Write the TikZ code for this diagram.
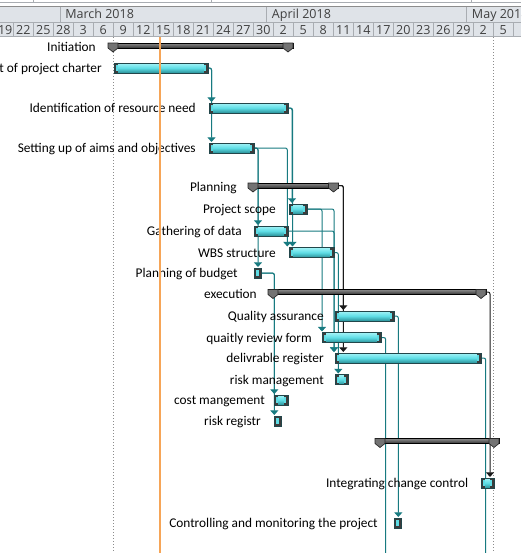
\documentclass[tikz,border=0pt]{standalone}
\usepackage{fontspec}
\setmainfont{Carlito}
\newfontfamily\hdrfont{Open Sans}
\usetikzlibrary{arrows.meta,calc}
\definecolor{hdrbg}{HTML}{DFE3E8}
\definecolor{hdrln}{HTML}{A9ADB2}
\definecolor{hdrtx}{HTML}{404040}
\definecolor{conncol}{HTML}{177A80}
\definecolor{bartop}{HTML}{A4F4F8}
\definecolor{barmid}{HTML}{5EDDE5}
\definecolor{barbot}{HTML}{2A8F97}
\definecolor{barln}{HTML}{22464A}
\definecolor{capfill}{HTML}{3C3C3C}
\definecolor{todaycol}{HTML}{F6A557}
\definecolor{dotcol}{HTML}{8C8C8C}
\tikzset{
 taskbar/.style={rectangle, anchor=west, draw=barln, line width=0.5pt,
   minimum height=7.5pt, inner sep=0pt, outer sep=0pt,
   top color=bartop, bottom color=barbot, middle color=barmid,
   path picture={
     \fill[capfill] (path picture bounding box.north west) rectangle ([xshift=3pt]path picture bounding box.south west);
     \fill[capfill] (path picture bounding box.north east) rectangle ([xshift=-3pt]path picture bounding box.south east);
     \fill[barmid] ([xshift=1.5pt,yshift=-1.5pt]path picture bounding box.north west) rectangle ([xshift=3pt,yshift=1.5pt]path picture bounding box.south west);
     \fill[barmid] ([xshift=-1.5pt,yshift=-1.5pt]path picture bounding box.north east) rectangle ([xshift=-3pt,yshift=1.5pt]path picture bounding box.south east);
   }},
 barw/.style={minimum width={#1*0.75pt}},
 sumbar/.style={rectangle, anchor=west, draw=black, line width=0.5pt,
   minimum height=3.75pt, inner sep=0pt, outer sep=0pt,
   top color=black!45, bottom color=black!80},
 sumtri/.style={draw=black!85, line width=0.5pt, fill=black!55},
 lbl/.style={anchor=base east, inner sep=0pt, font=\fontsize{10}{12}\selectfont, text=black},
 hdrtext/.style={inner sep=0pt, font=\hdrfont\fontsize{9.4}{11}\selectfont, text=hdrtx},
 conn/.style={draw=conncol, line width=0.75pt, rounded corners=1.5pt, -{Triangle[width=6pt,length=3.5pt]}},
 connk/.style={conn, draw=black!90},
 connfree/.style={draw=conncol, line width=0.75pt, rounded corners=1.5pt},
 dotline/.style={draw=dotcol, line width=0.75pt, dash pattern=on 0.75pt off 1.5pt},
 hline/.style={draw=hdrln, line width=0.75pt},
}
\newcommand\sumtris[1]{%
  \filldraw[sumtri] (#1.north west) -- ++(10,0) -- ++(0,5) -- ++(-5,4) -- ++(-5,-4) -- cycle;
  \filldraw[sumtri] (#1.north east) -- ++(-10,0) -- ++(0,5) -- ++(5,4) -- ++(5,-4) -- cycle;}
\begin{document}
\begin{tikzpicture}[x=0.75pt,y=-0.75pt]
\useasboundingbox (0,0) rectangle (521,553);
\clip (0,0) rectangle (521,553);
\fill[white] (0,0) rectangle (521,553);
% header
\fill[hdrbg] (0,6.7) rectangle (521,36.5);
\draw[hline] (0,2.5) -- (521,2.5);
\draw[hline,draw=black!45] (0,6.2) -- (521,6.2);
\draw[hline] (0,22.2) -- (521,22.2);
\draw[hline] (0,36.5) -- (521,36.5);
\foreach \x in {33.3,211.7,471.7} \draw[hline] (\x,0) -- (\x,2.5);
\foreach \x in {60,266.7,466.7} \draw[hline] (\x,6.7) -- (\x,22.2);
\foreach \k in {0,...,26} \draw[hline] ({13.3+20*\k},22.2) -- ++(0,14.3);
\node[hdrtext, anchor=base west] (mMar) at (65,18.3) {March 2018};
\node[hdrtext, anchor=base west] (mApr) at (271.7,18.3) {April 2018};
\node[hdrtext, anchor=base west] (mMay) at (471.7,18.3) {May 2018};
\node[hdrtext, anchor=base east] (day0) at (12.6,34) {19};
\foreach \d [count=\k from 1] in {22,25,28,3,6,9,12,15,18,21,24,27,30,2,5,8,11,14,17,20,23,26,29,2,5}
  \node[hdrtext, anchor=base] (day\k) at ({3.3+20*\k},34) {\d};
% vertical guide lines
\draw[dotline] (113.3,37) -- (113.3,553);
\draw[dotline] (493.3,37) -- (493.3,553);
% bars (nodes)
\node[sumbar, barw=185] (initsum) at (108,45.5) {};
\node[taskbar, barw=94] (charter) at (114,68) {};
\node[taskbar, barw=79] (ident) at (209,108) {};
\node[taskbar, barw=45] (setup) at (209,148) {};
\node[sumbar, barw=90.5] (plansum) at (248,185.5) {};
\node[taskbar, barw=18] (scope) at (289,209) {};
\node[taskbar, barw=34] (gather) at (254,231) {};
\node[taskbar, barw=45] (wbs) at (289,252.5) {};
\node[taskbar, barw=7] (budget) at (254,273) {};
\node[sumbar, barw=218] (execsum) at (268,292) {};
\node[taskbar, barw=59] (qa) at (335,316) {};
\node[taskbar, barw=59] (review) at (322,337.5) {};
\node[taskbar, barw=146] (deliv) at (335,358) {};
\node[taskbar, barw=13] (riskm) at (335,379.5) {};
\node[taskbar, barw=14] (cost) at (274,400) {};
\node[taskbar, barw=7] (registr) at (274,421) {};
\node[sumbar, barw=124] (ctrlsum) at (375,441) {};
\node[taskbar, barw=13] (integ) at (481,483) {};
\node[taskbar, barw=7] (ctrl) at (394,523) {};
% connectors
\draw[conn] (charter.east) -| ($(ident.north west)+(2.5,-1)$);
\draw[conn] (charter.east) -| ($(setup.north west)+(2.5,-1)$);
\draw[conn] (ident.east) -| ($(scope.north west)+(3,-1)$);
\draw[conn] (ident.east) -| ($(wbs.north west)+(3.5,-1)$);
\draw[conn] (setup.east) -| ($(gather.north west)+(4,-1)$);
\draw[conn] (setup.east) -| ($(budget.north west)+(4,-1)$);
\draw[conn] (setup.east) -| ($(wbs.north west)+(-1.7,-1)$);
\draw[conn] (scope.east) -| ($(review.north west)+(0,-1)$);
\draw[conn] (scope.east) -| ($(deliv.north west)+(-1,-1)$);
\draw[conn] (gather.east) -| ($(deliv.north west)+(-1,-1)$);
\draw[conn] (wbs.east) -| ($(riskm.north west)+(3.3,-1)$);
\draw[connk] (plansum.east) -| ($(qa.north west)+(8.3,-1)$);
\draw[connk] (plansum.east) -| ($(deliv.north west)+(8.3,-1)$);
\draw[conn] (budget.east) -| ($(cost.north west)+(0.3,-1)$);
\draw[conn] (budget.east) -| ($(registr.north west)+(0.3,-1)$);
\draw[connk] (execsum.east) -| ($(integ.north west)+(9,-1)$);
\draw[conn] (qa.east) -| ($(ctrl.north west)+(4.3,-1)$);
\coordinate (offA) at (385.7,560);
\coordinate (offB) at (485.7,560);
\draw[connfree] (review.east) -| (offA);
\draw[connfree] (deliv.east) -| (offB);
% redraw bars above connectors
\node[sumbar, barw=185] at (108,45.5) {};
\node[taskbar, barw=94] at (114,68) {};
\node[taskbar, barw=79] at (209,108) {};
\node[taskbar, barw=45] at (209,148) {};
\node[sumbar, barw=90.5] at (248,185.5) {};
\node[taskbar, barw=18] at (289,209) {};
\node[taskbar, barw=34] at (254,231) {};
\node[taskbar, barw=45] at (289,252.5) {};
\node[taskbar, barw=7] at (254,273) {};
\node[sumbar, barw=218] at (268,292) {};
\node[taskbar, barw=59] at (335,316) {};
\node[taskbar, barw=59] at (322,337.5) {};
\node[taskbar, barw=146] at (335,358) {};
\node[taskbar, barw=13] at (335,379.5) {};
\node[taskbar, barw=14] at (274,400) {};
\node[taskbar, barw=7] at (274,421) {};
\node[sumbar, barw=124] at (375,441) {};
\node[taskbar, barw=13] at (481,483) {};
\node[taskbar, barw=7] at (394,523) {};
\sumtris{initsum}
\sumtris{plansum}
\sumtris{execsum}
\sumtris{ctrlsum}
% labels
\node[lbl] (lInit) at (96,51) {Initiation};
\node[lbl] (lCharter) at (102,72.5) {t of project charter};
\node[lbl] (lIdent) at (196,112.5) {Identification of resource need};
\node[lbl] (lSetup) at (196,152.5) {Setting up of aims and objectives};
\node[lbl] (lPlan) at (237,191.7) {Planning};
\node[lbl] (lScope) at (276,213.5) {Project scope};
\node[lbl] (lGather) at (242,235.5) {Gathering of data};
\node[lbl] (lWbs) at (276,257) {WBS structure};
\node[lbl] (lBudget) at (238,277.5) {Planning of budget};
\node[lbl] (lExec) at (257,298.3) {execution};
\node[lbl] (lQa) at (324,320.5) {Quality assurance};
\node[lbl] (lReview) at (312,342) {quaitly review form};
\node[lbl] (lDeliv) at (324,362.5) {delivrable register};
\node[lbl] (lRiskm) at (324,384) {risk management};
\node[lbl] (lCost) at (265,404.5) {cost mangement};
\node[lbl] (lRegistr) at (261,425.5) {risk registr};
\node[lbl] (lInteg) at (468.5,487.5) {Integrating change control};
\node[lbl] (lCtrl) at (378,527.5) {Controlling and monitoring the project};
% today line
\draw[draw=todaycol, line width=0.9pt] (160,37) -- (160,553);
\end{tikzpicture}
\end{document}
